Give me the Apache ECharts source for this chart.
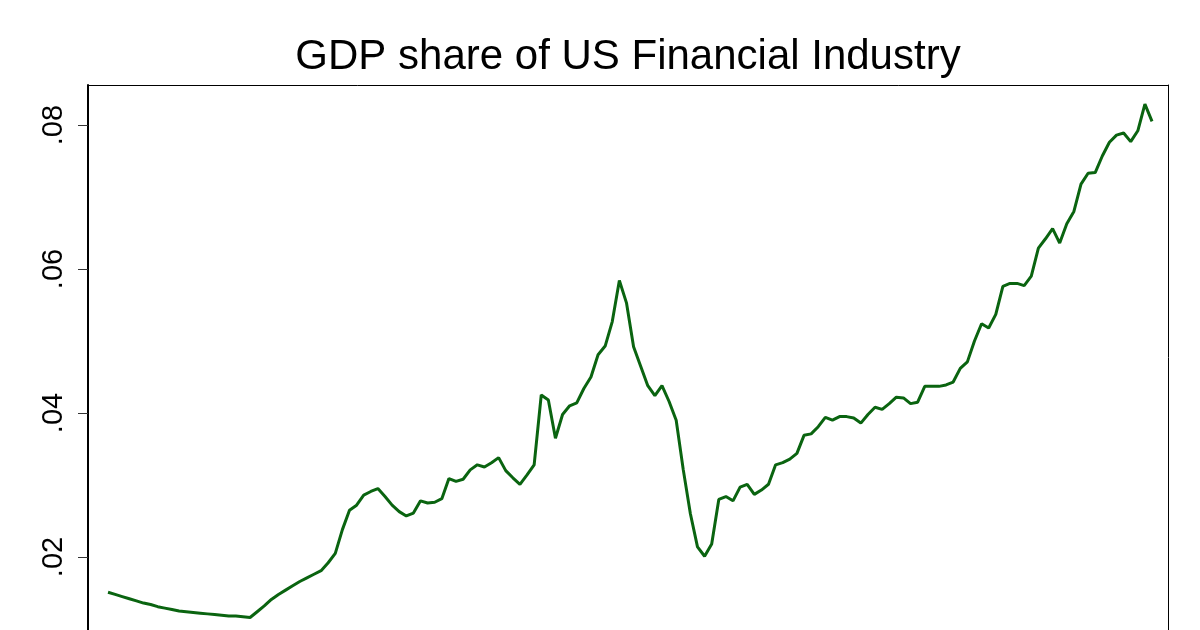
<!DOCTYPE html>
<html>
<head>
<meta charset="utf-8">
<script src="https://cdn.jsdelivr.net/npm/echarts@6/dist/echarts.min.js"></script>
<style>
  html, body { margin: 0; padding: 0; background: #fff; }
  #main { width: 1200px; height: 630px; }
</style>
</head>
<body>
<div id="main"></div>
<script>
// annual GDP share of the financial industry, first year 1860
var firstYear = 1860;
var shares = [
  0.0151, 0.0148, 0.0145, 0.0142, 0.0139, 0.0136, 0.0134, 0.0131, 0.0129, 0.0127, // 1860s
  0.0125, 0.0124, 0.0123, 0.0122, 0.0121, 0.0120, 0.0119, 0.0118, 0.0118, 0.0117, // 1870s
  0.0116, 0.0124, 0.0132, 0.0141, 0.0148, 0.0154, 0.0160, 0.0166, 0.0171, 0.0176, // 1880s
  0.0181, 0.0192, 0.0205, 0.0238, 0.0265, 0.0272, 0.0286, 0.0291, 0.0295, 0.0284, // 1890s
  0.0272, 0.0263, 0.0257, 0.0261, 0.0278, 0.0275, 0.0276, 0.0281, 0.0309, 0.0305, // 1900s
  0.0308, 0.0321, 0.0328, 0.0325, 0.0331, 0.0338, 0.0320, 0.0310, 0.0301, 0.0314, // 1910s
  0.0328, 0.0425, 0.0418, 0.0365, 0.0398, 0.0410, 0.0414, 0.0434, 0.0450, 0.0481, // 1920s
  0.0493, 0.0527, 0.0584, 0.0553, 0.0492, 0.0465, 0.0438, 0.0424, 0.0438, 0.0416, // 1930s
  0.0390, 0.0321, 0.0260, 0.0214, 0.0201, 0.0218, 0.0280, 0.0284, 0.0278, 0.0297, // 1940s
  0.0301, 0.0287, 0.0293, 0.0301, 0.0328, 0.0331, 0.0336, 0.0344, 0.0369, 0.0371, // 1950s
  0.0381, 0.0394, 0.0390, 0.0395, 0.0395, 0.0393, 0.0386, 0.0398, 0.0408, 0.0405, // 1960s
  0.0413, 0.0422, 0.0421, 0.0413, 0.0415, 0.0437, 0.0437, 0.0437, 0.0439, 0.0443, // 1970s
  0.0462, 0.0471, 0.0500, 0.0524, 0.0518, 0.0537, 0.0576, 0.0580, 0.0580, 0.0577, // 1980s
  0.0590, 0.0629, 0.0642, 0.0656, 0.0636, 0.0663, 0.0680, 0.0718, 0.0733, 0.0734, // 1990s
  0.0757, 0.0776, 0.0786, 0.0789, 0.0777, 0.0792, 0.0829, 0.0805                  // 2000s
];
var yTicks = [0.02, 0.04, 0.06, 0.08];
var yTickLabels = ['.02', '.04', '.06', '.08'];

var points = [];
for (var i = 0; i < shares.length; i++) {
  points.push([firstYear + i, shares[i]]);
}

// visible part of the y range (the x axis is below the picture)
var yMin = 0.00986;
var yMax = 0.08556;

var chart = echarts.init(document.getElementById('main'));
chart.setOption({
  animation: false,
  backgroundColor: '#fff',
  title: {
    text: 'GDP share of US Financial Industry',
    left: 628,
    top: 36,
    padding: 0,
    textAlign: 'center',
    textStyle: {
      fontFamily: 'Liberation Sans, Arial, sans-serif',
      fontSize: 42,
      fontWeight: 'normal',
      color: '#000'
    }
  },
  grid: {
    left: 88,
    right: 32,
    top: 85,
    bottom: 0,
    show: false
  },
  xAxis: {
    type: 'value',
    position: 'top',
    min: 1857.18,
    max: 2009.25,
    splitLine: { show: false },
    axisTick: { show: false },
    axisLabel: { show: false },
    axisLine: { show: true, onZero: false, lineStyle: { color: '#000', width: 1 } }
  },
  yAxis: [{
    type: 'value',
    position: 'left',
    min: yMin,
    max: yMax,
    splitLine: { show: false },
    axisLine: { show: true, onZero: false, lineStyle: { color: '#000', width: 2 } },
    axisTick: {
      show: true,
      length: 10,
      customValues: yTicks,
      lineStyle: { color: '#333', width: 1 }
    },
    axisLabel: {
      rotate: 90,
      margin: 20,
      customValues: yTicks,
      fontFamily: 'Liberation Sans, Arial, sans-serif',
      fontSize: 29,
      color: '#000',
      formatter: function (v) {
        var k = yTicks.indexOf(Math.round(v * 100) / 100);
        return k >= 0 ? yTickLabels[k] : '';
      }
    }
  }, {
    type: 'value',
    position: 'right',
    min: yMin,
    max: yMax,
    splitLine: { show: false },
    axisTick: { show: false },
    axisLabel: { show: false },
    axisLine: { show: true, onZero: false, lineStyle: { color: '#000', width: 1 } }
  }],
  series: [{
    type: 'line',
    data: points,
    showSymbol: false,
    lineStyle: { color: '#0a6410', width: 3 },
    clip: true
  }]
});
</script>
</body>
</html>
